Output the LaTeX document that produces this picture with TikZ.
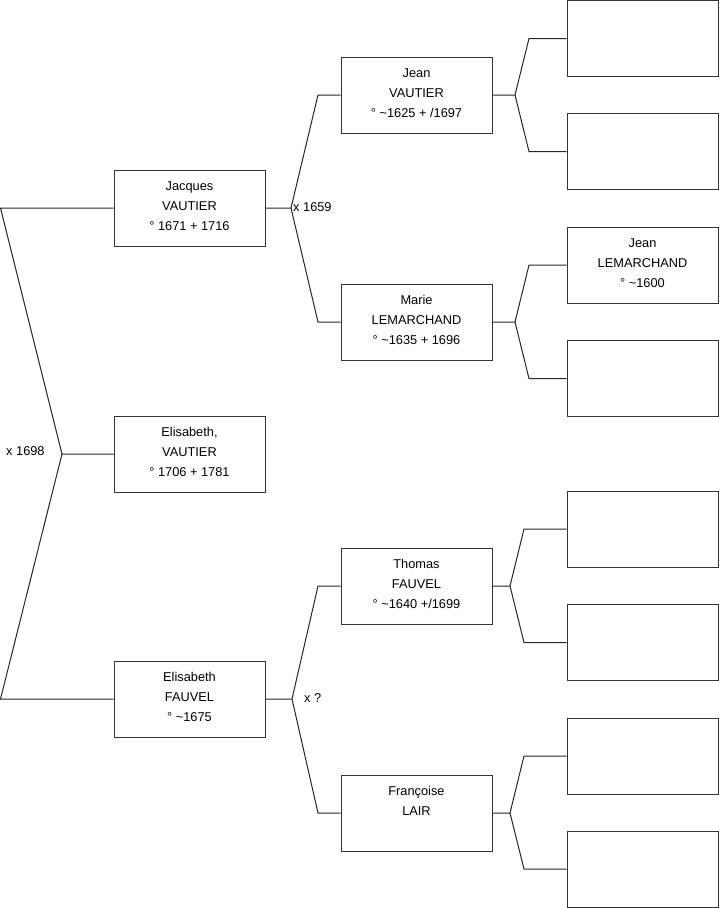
\documentclass[tikz,border=0pt]{standalone}
\usepackage{fontspec}
\setmainfont{Liberation Sans}
\begin{document}
\begin{tikzpicture}[x=1pt,y=-1pt,
  person/.style={draw=black!80,line width=1pt,minimum width=151pt,minimum height=76pt,inner sep=0pt},
  ptext/.style={inner sep=0pt,align=center,yshift=2pt,font=\fontsize{12.8}{20}\selectfont},
  conn/.style={draw=black!85,line width=1pt},
  lbl/.style={inner sep=0pt,font=\fontsize{12.8}{14}\selectfont}]
\useasboundingbox (0,0) rectangle (719,908);
% generation 1
\node[person,label={[ptext]center:Elisabeth,\\VAUTIER\\° 1706 + 1781}] (eli) at (189.5,454) {};
% generation 2
\node[person,label={[ptext]center:Jacques\\VAUTIER\\° 1671 + 1716}] (jac) at (189.5,208) {};
\node[person,label={[ptext]center:Elisabeth\\FAUVEL\\° \textasciitilde1675}] (elf) at (189.5,699) {};
% generation 3
\node[person,label={[ptext]center:Jean\\VAUTIER\\° \textasciitilde1625 + /1697}] (jea) at (416.5,95) {};
\node[person,label={[ptext]center:Marie\\LEMARCHAND\\° \textasciitilde1635 + 1696}] (mar) at (416.5,322) {};
\node[person,label={[ptext]center:Thomas\\FAUVEL\\° \textasciitilde1640 +/1699}] (tho) at (416.5,586) {};
\node[person,label={[ptext]center:Françoise\\LAIR\\\mbox{}}] (fra) at (416.5,813) {};
% generation 4
\node[person] (r1) at (642.5,38.5) {};
\node[person] (r2) at (642.5,151.5) {};
\node[person,label={[ptext]center:Jean\\LEMARCHAND\\° \textasciitilde1600}] (r3) at (642.5,265) {};
\node[person] (r4) at (642.5,378.5) {};
\node[person] (r5) at (642.5,529) {};
\node[person] (r6) at (642.5,642.5) {};
\node[person] (r7) at (642.5,756) {};
\node[person] (r8) at (642.5,869) {};
% fork points
\coordinate (f1) at (62,454);
\coordinate (f2) at (291,208);
\coordinate (f3) at (292,699);
\coordinate (f4) at (515,95);
\coordinate (f5) at (515,322);
\coordinate (f6) at (510,586);
\coordinate (f7) at (510,813);
% connectors
\draw[conn] (eli.west) -- (f1) -- (0.5,208) -- (jac.west);
\draw[conn] (f1) -- (0.5,699) -- (elf.west);
\draw[conn] (jac.east) -- (f2) -- (318,95) -- (jea.west);
\draw[conn] (f2) -- (318,322) -- (mar.west);
\draw[conn] (elf.east) -- (f3) -- (318,586) -- (tho.west);
\draw[conn] (f3) -- (318,813) -- (fra.west);
\draw[conn] (jea.east) -- (f4) -- (529,38.5) -- (r1.west);
\draw[conn] (f4) -- (529,151.5) -- (r2.west);
\draw[conn] (mar.east) -- (f5) -- (529,265) -- (r3.west);
\draw[conn] (f5) -- (529,378.5) -- (r4.west);
\draw[conn] (tho.east) -- (f6) -- (524,529) -- (r5.west);
\draw[conn] (f6) -- (524,642.5) -- (r6.west);
\draw[conn] (fra.east) -- (f7) -- (524,756) -- (r7.west);
\draw[conn] (f7) -- (524,869) -- (r8.west);
% marriage labels
\node[lbl,anchor=west] (m1) at (6,451) {x 1698};
\node[lbl,anchor=west] (m2) at (293,207) {x 1659};
\node[lbl,anchor=west] (m3) at (304,698) {x ?};
\end{tikzpicture}
\end{document}
